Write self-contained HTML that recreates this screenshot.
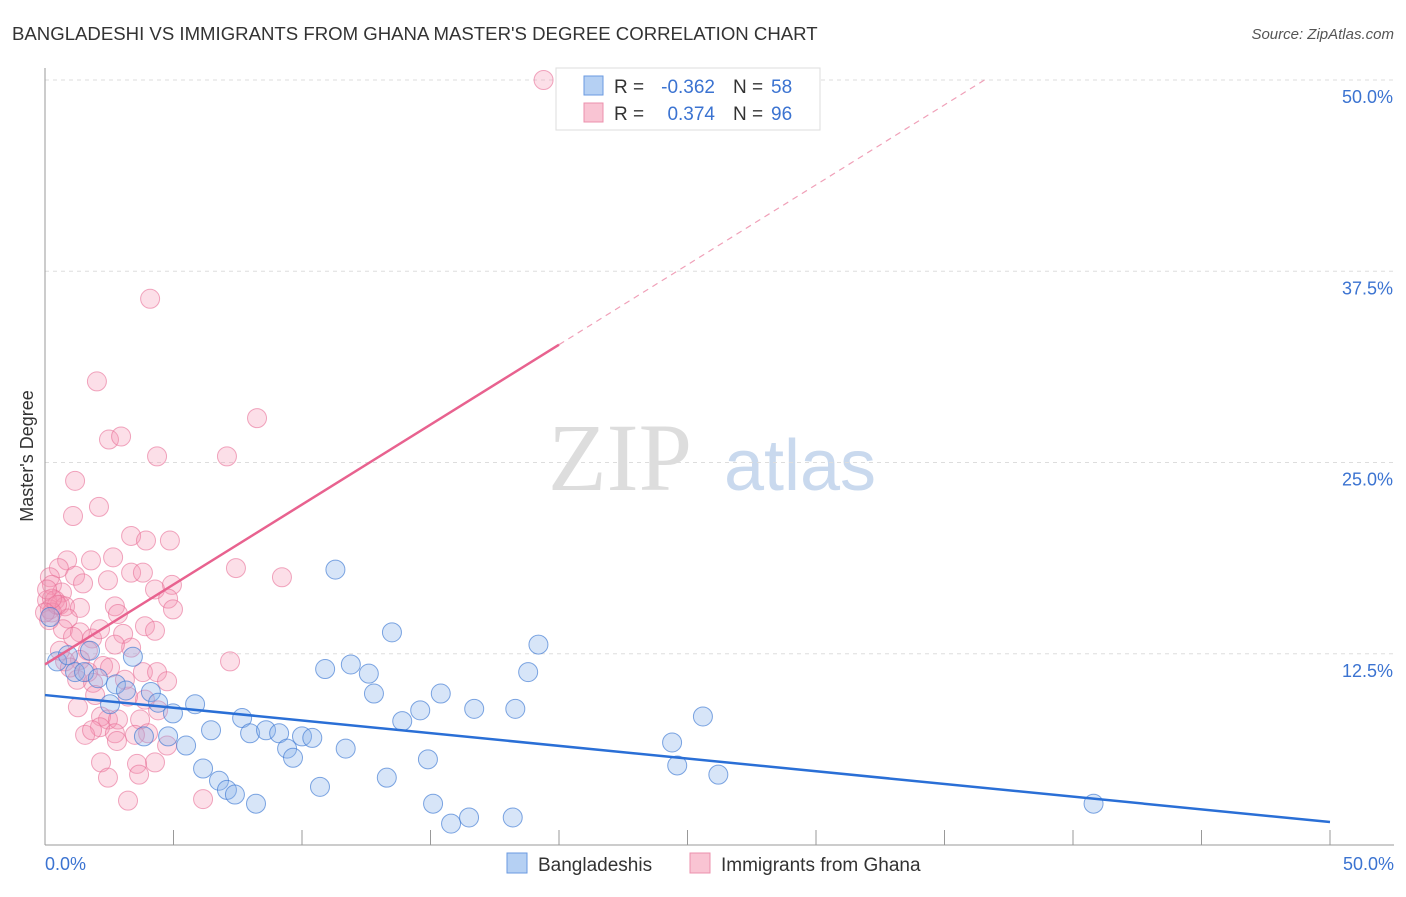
<!DOCTYPE html>
<html><head><meta charset="utf-8"><style>
body{margin:0;background:#fff;font-family:"Liberation Sans",sans-serif;}
</style></head><body>
<svg width="1406" height="892" xmlns="http://www.w3.org/2000/svg" id="chart" style="font-family:'Liberation Sans',sans-serif">
<text x="12" y="40" font-size="18.6" fill="#333">BANGLADESHI VS IMMIGRANTS FROM GHANA MASTER'S DEGREE CORRELATION CHART</text>
<text x="1394" y="39" font-size="15" fill="#555" font-style="italic" text-anchor="end">Source: ZipAtlas.com</text>
<text x="620" y="490" font-size="96" fill="#ddd" font-family="Liberation Serif" text-anchor="middle">ZIP</text>
<text x="800" y="490" font-size="72" fill="#c9d9ee" text-anchor="middle">atlas</text>
<g id="grid"></g>
<g id="axes"></g>
<g id="marks"></g>
<text transform="translate(33,456) rotate(-90)" font-size="18" fill="#333" text-anchor="middle">Master's Degree</text>
<g>
<rect x="556" y="68" width="264" height="62" fill="#fff" stroke="#ddd"/>
<rect x="584" y="76" width="19" height="19" fill="#b5d0f3" stroke="#6a9ae0"/>
<rect x="584" y="103" width="19" height="19" fill="#f9c4d3" stroke="#ec90ac"/>
<text x="614" y="93" font-size="19" fill="#333">R =</text>
<text x="715" y="93" font-size="19" fill="#3b73d1" text-anchor="end">-0.362</text>
<text x="733" y="93" font-size="19" fill="#333">N =</text>
<text x="771" y="93" font-size="19" fill="#3b73d1">58</text>
<text x="614" y="120" font-size="19" fill="#333">R =</text>
<text x="715" y="120" font-size="19" fill="#3b73d1" text-anchor="end">0.374</text>
<text x="733" y="120" font-size="19" fill="#333">N =</text>
<text x="771" y="120" font-size="19" fill="#3b73d1">96</text>
</g>
<g>
<rect x="507" y="853" width="20" height="20" fill="#b5d0f3" stroke="#6a9ae0"/>
<text x="538" y="871" font-size="19" fill="#333">Bangladeshis</text>
<rect x="690" y="853" width="20" height="20" fill="#f9c4d3" stroke="#ec90ac"/>
<text x="721" y="871" font-size="19" fill="#333">Immigrants from Ghana</text>
</g>
</svg>
<script>
const yTicks=[12.5,25,37.5,50];
const yTickLabels=["12.5%","25.0%","37.5%","50.0%"];
const xTickLabels=["0.0%","50.0%"];
const blueX=[0.47,0.89,1.17,1.52,1.75,2.06,2.53,2.76,3.15,3.42,3.85,4.12,4.40,4.79,4.98,5.49,5.84,6.15,6.46,6.77,7.08,7.39,7.67,7.98,8.21,8.60,9.11,9.42,9.65,10.0,10.4,10.7,10.9,11.3,11.7,11.9,12.6,12.8,13.3,13.5,13.9,14.6,14.9,15.1,15.4,15.8,16.5,16.7,18.2,18.3,18.8,19.2,24.4,24.6,25.6,26.2,40.8,0.2];
const blueY=[12.0,12.4,11.3,11.3,12.7,10.9,9.2,10.5,10.1,12.3,7.1,10.0,9.3,7.1,8.6,6.5,9.2,5.0,7.5,4.2,3.6,3.3,8.3,7.3,2.7,7.5,7.3,6.3,5.7,7.1,7.0,3.8,11.5,18.0,6.3,11.8,11.2,9.9,4.4,13.9,8.1,8.8,5.6,2.7,9.9,1.4,1.8,8.9,1.8,8.9,11.3,13.1,6.7,5.2,8.4,4.6,2.7,14.9];
const pinkX=[19.4,4.09,2.02,8.25,2.49,2.96,4.36,7.08,1.17,2.10,1.09,3.35,3.93,4.86,0.86,1.79,2.65,7.43,9.22,0.54,0.19,1.17,2.45,3.35,3.81,4.94,4.28,0.27,1.48,0.66,0.08,0.39,0.58,0.19,0.78,1.36,2.72,4.79,4.98,0.27,2.84,0.89,3.89,0.70,1.36,3.04,4.28,1.83,1.09,3.35,7.20,1.67,1.36,0.78,2.26,3.81,4.36,1.25,1.87,4.75,3.89,1.95,1.28,3.23,2.45,2.18,4.40,2.84,3.70,4.01,2.14,2.72,1.56,1.83,2.80,3.50,4.75,2.18,4.28,3.58,2.45,3.66,3.23,6.15,0.16,0.47,0.27,0.08,0.0,2.14,2.72,0.58,0.97,1.67,2.53,3.11];
const pinkY=[50.0,35.7,30.3,27.9,26.5,26.7,25.4,25.4,23.8,22.1,21.5,20.2,19.9,19.9,18.6,18.6,18.8,18.1,17.5,18.1,17.5,17.6,17.3,17.8,17.8,17.0,16.7,17.0,17.1,16.5,16.0,16.0,15.7,15.4,15.6,15.5,15.6,16.1,15.4,15.2,15.1,14.8,14.3,14.1,13.9,13.8,14.0,13.5,13.6,12.9,12.0,12.7,12.1,12.0,11.7,11.3,11.3,10.8,10.6,10.7,9.5,9.8,9.0,9.7,8.2,8.4,8.8,8.2,8.2,7.3,7.7,7.3,7.2,7.5,6.8,7.2,6.5,5.4,5.4,5.3,4.4,4.6,2.9,3.0,14.7,15.7,16.1,16.7,15.2,14.1,13.1,12.7,11.6,11.3,11.6,10.8];
const blueTrend=[9.8,1.5];
const pinkTrend=[11.8,1.045];
const NS="http://www.w3.org/2000/svg";
const X0=45,X1=1330,Y0=845,Y50=80;
function sx(v){return X0+(X1-X0)*v/50;}
function sy(v){return Y0-(Y0-Y50)*v/50;}
function mk(tag,attrs,parent){const e=document.createElementNS(NS,tag);for(const k in attrs)e.setAttribute(k,attrs[k]);document.getElementById(parent).appendChild(e);return e;}
yTicks.forEach((t,i)=>{
 const g=mk('line',{x1:X0,x2:1394,y1:sy(t),y2:sy(t),stroke:'#ddd','stroke-dasharray':'4,4'},'grid');
 
 
 const l=mk('text',{x:1393,y:sy(t)+23,'font-size':18,fill:'#3b73d1','text-anchor':'end'},'grid');
 l.textContent=yTickLabels[i];
 
 
});
const ax=mk('line',{x1:X0,x2:X0,y1:68,y2:Y0,stroke:'#999'},'axes');


const bx=mk('line',{x1:X0,x2:1394,y1:Y0,y2:Y0,stroke:'#999'},'axes');


for(let i=0;i<=10;i++){
 const t=mk('line',{x1:sx(i*5),x2:sx(i*5),y1:830,y2:Y0,stroke:'#999'},'axes');
 
 
}
[[0,'start',45],[50,'end',1394]].forEach((a,i)=>{
 const l=mk('text',{x:a[2],y:870,'font-size':18,fill:'#3b73d1','text-anchor':a[1]},'axes');
 l.textContent=xTickLabels[i];
 
 
});
pinkX.forEach((x,i)=>{
 const c=mk('circle',{cx:sx(x),cy:sy(pinkY[i]),r:9.5,fill:'rgba(244,150,178,0.3)',stroke:'rgba(232,110,150,0.6)','stroke-width':1},'marks');
 
 
});
blueX.forEach((x,i)=>{
 const c=mk('circle',{cx:sx(x),cy:sy(blueY[i]),r:9.5,fill:'rgba(140,180,235,0.35)',stroke:'rgba(60,120,210,0.65)','stroke-width':1},'marks');
 
 
});
const bl=mk('line',{x1:sx(0),y1:sy(blueTrend[0]),x2:sx(50),y2:sy(blueTrend[1]),stroke:'#2a6fd6','stroke-width':2.5},'marks');


const pEnd=20, pMax=(50-pinkTrend[0])/pinkTrend[1];
const pl=mk('line',{x1:sx(0),y1:sy(pinkTrend[0]),x2:sx(pEnd),y2:sy(pinkTrend[0]+pinkTrend[1]*pEnd),stroke:'#e8628f','stroke-width':2.5},'marks');


const pd=mk('line',{x1:sx(pEnd),y1:sy(pinkTrend[0]+pinkTrend[1]*pEnd),x2:sx(pMax),y2:sy(50),stroke:'#f0a0b8','stroke-width':1.2,'stroke-dasharray':'6,5'},'marks');


</script>
</body></html>
